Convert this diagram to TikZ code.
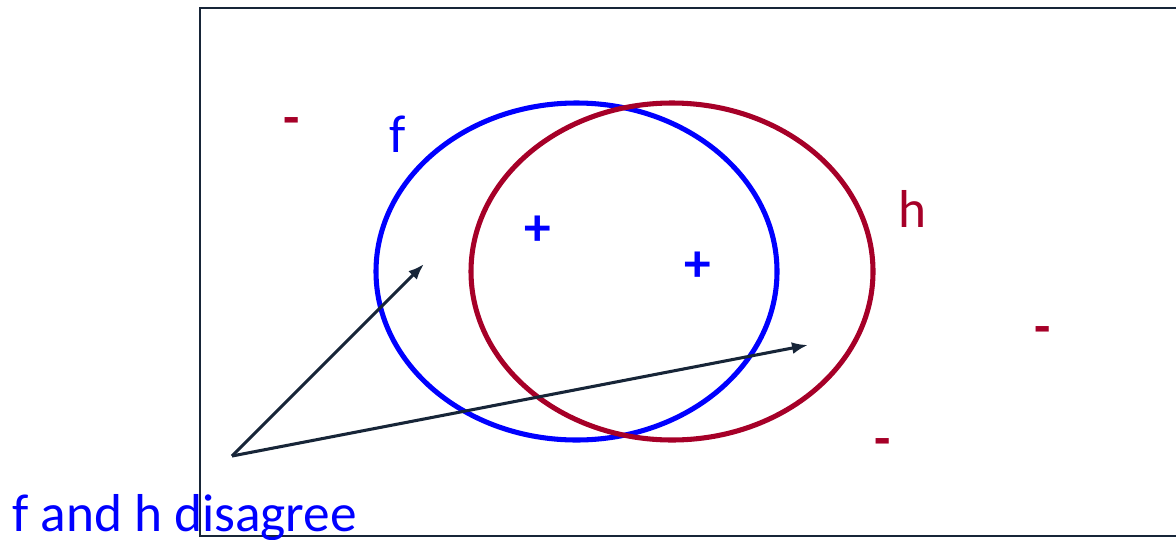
\documentclass[tikz,border=0pt]{standalone}
\usepackage{fontspec}
\setmainfont{Carlito}
\usetikzlibrary{arrows.meta}
\definecolor{hred}{RGB}{166,0,40}
\definecolor{fblue}{RGB}{0,0,255}
\definecolor{navy}{RGB}{23,37,56}

\begin{document}
\begin{tikzpicture}[
  x=0.75pt, y=-0.75pt,
  >={Latex[length=12pt,width=9pt]},
  lbl/.style={font=\fontsize{40}{44}\selectfont, inner sep=0pt},
  neglbl/.style={lbl, font=\fontsize{40}{44}\selectfont\bfseries, text=hred},
  poslbl/.style={lbl, text=fblue},
  oval/.style={line width=3.8pt},
  arr/.style={->, line width=2.3pt, draw=navy}
]
\useasboundingbox (0,0) rectangle (1176,539);
\draw[navy, line width=1.5pt] (200,8) rectangle (1190,536);
% hypotheses
\draw[oval, fblue] (576.5,271.5) ellipse [x radius=200.5, y radius=168.5];
\draw[oval, hred] (672,271.5) ellipse [x radius=201, y radius=168.5];
\node[poslbl] (fl) at (398,134) {f};
\node[neglbl, font=\fontsize{40}{44}\selectfont] (hl) at (912,209) {h};
% examples
\node[poslbl, font=\fontsize{40}{44}\selectfont\bfseries] (p1) at (538,231) {+};
\node[poslbl, font=\fontsize{40}{44}\selectfont\bfseries] (p2) at (698,267) {+};
\node[neglbl] (n1) at (292,127) {-};
\node[neglbl] (n2) at (1043,336) {-};
\node[neglbl] (n3) at (883,448) {-};
% disagreement region
\coordinate (src) at (232,456);
\coordinate (tipA) at (424,264);
\coordinate (tipB) at (808,345);
\draw[arr] (src) -- (tipA);
\draw[arr] (src) -- (tipB);
\node[lbl, text=fblue, anchor=base west] (cap) at (12,531) {f and h disagree};
\end{tikzpicture}
\end{document}
